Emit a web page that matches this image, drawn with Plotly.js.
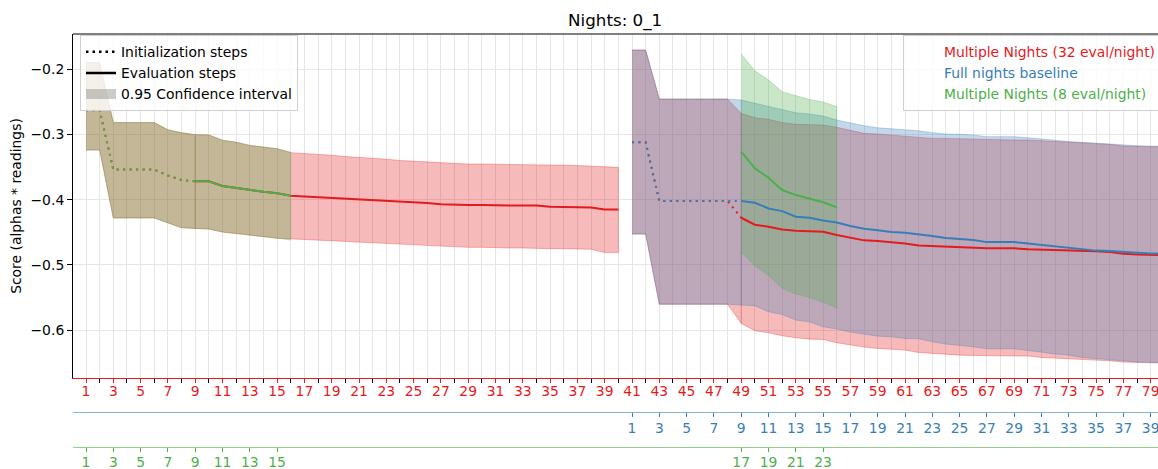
<!DOCTYPE html>
<html><head><meta charset="utf-8">
<script src="https://cdn.plot.ly/plotly-3.0.1.min.js"></script>
<style>html,body{margin:0;padding:0;overflow:hidden;background:#fff}</style>
</head><body>
<div id="chart" style="width:1166px;height:469px"></div>
<script>
// ---------- data ----------
function range(a, b) { const r = []; for (let i = a; i <= b; i++) r.push(i); return r; }

// Night 0 : Multiple Nights (32 eval/night), main steps 1..40
const redSteps0 = range(1, 40);
const redInitEnd0 = 9;
const redMean0 = [-0.263,-0.263,-0.354,-0.354,-0.354,-0.354,-0.363,-0.370,-0.372,-0.372,
  -0.379,-0.382,-0.386,-0.388,-0.390,-0.394,-0.395,-0.396,-0.397,-0.399,
  -0.400,-0.401,-0.402,-0.403,-0.404,-0.405,-0.407,-0.408,-0.408,-0.408,
  -0.409,-0.409,-0.409,-0.409,-0.411,-0.411,-0.411,-0.412,-0.415,-0.415];
const redUpper0 = [-0.19,-0.19,-0.282,-0.282,-0.282,-0.282,-0.293,-0.2975,-0.3005,-0.301,
  -0.309,-0.312,-0.317,-0.3195,-0.322,-0.328,-0.329,-0.331,-0.332,-0.334,
  -0.335,-0.337,-0.338,-0.340,-0.341,-0.342,-0.344,-0.345,-0.3455,-0.3455,
  -0.346,-0.346,-0.3465,-0.3465,-0.347,-0.347,-0.348,-0.349,-0.3505,-0.3505];
const redLower0 = [-0.324,-0.324,-0.428,-0.428,-0.428,-0.428,-0.435,-0.443,-0.444,-0.445,
  -0.4496,-0.452,-0.454,-0.4566,-0.459,-0.461,-0.462,-0.463,-0.464,-0.4645,
  -0.465,-0.466,-0.467,-0.468,-0.469,-0.470,-0.472,-0.472,-0.473,-0.473,
  -0.473,-0.474,-0.474,-0.474,-0.475,-0.475,-0.475,-0.476,-0.481,-0.481];

// Night 1 : Multiple Nights (32 eval/night), main steps 41..80
const redSteps1 = range(41, 80);
const redInitEnd1 = 49;
const redMean1 = [-0.312,-0.312,-0.402,-0.402,-0.402,-0.402,-0.402,-0.402,-0.4277,-0.4384,
  -0.4415,-0.4455,-0.4476,-0.4486,-0.4491,-0.4542,-0.4583,-0.4623,-0.4633,-0.465,
  -0.467,-0.470,-0.471,-0.471,-0.473,-0.474,-0.4745,-0.4745,-0.4745,-0.476,
  -0.4765,-0.4772,-0.4772,-0.478,-0.479,-0.480,-0.4828,-0.4838,-0.4845,-0.485];
const redUpper1 = [-0.171,-0.171,-0.246,-0.246,-0.246,-0.246,-0.246,-0.246,-0.2679,-0.2745,
  -0.277,-0.282,-0.2847,-0.2858,-0.2858,-0.2893,-0.2944,-0.2985,-0.2995,-0.301,
  -0.3026,-0.3046,-0.3062,-0.3062,-0.3067,-0.3077,-0.3087,-0.3087,-0.3087,-0.3087,
  -0.3097,-0.3108,-0.3118,-0.3128,-0.3138,-0.3154,-0.318,-0.319,-0.319,-0.319];
const redLower1 = [-0.4527,-0.4527,-0.560,-0.560,-0.560,-0.560,-0.560,-0.560,-0.5895,-0.6007,
  -0.6038,-0.6084,-0.6114,-0.6135,-0.614,-0.6191,-0.622,-0.6257,-0.6278,-0.6293,
  -0.6303,-0.6339,-0.6354,-0.6364,-0.638,-0.6385,-0.6395,-0.6395,-0.6395,-0.6395,
  -0.6416,-0.6431,-0.6436,-0.6447,-0.6456,-0.6467,-0.6487,-0.6497,-0.6497,-0.650];

// Full nights baseline : own steps 1..40 (start at main step 41)
const blueOffset = 40;
const blueSteps = range(1, 40);
const blueInitEnd = 9;
const blueMean = [-0.312,-0.312,-0.402,-0.402,-0.402,-0.402,-0.402,-0.402,-0.402,-0.4047,
  -0.4134,-0.4175,-0.426,-0.4277,-0.432,-0.435,-0.4404,-0.4445,-0.447,-0.4496,
  -0.4506,-0.4527,-0.4557,-0.4588,-0.4603,-0.4619,-0.465,-0.465,-0.465,-0.467,
  -0.469,-0.472,-0.473,-0.476,-0.478,-0.4785,-0.4802,-0.4813,-0.4823,-0.4823];
const blueUpper = [-0.171,-0.171,-0.246,-0.246,-0.246,-0.246,-0.246,-0.246,-0.2475,-0.2526,
  -0.2567,-0.2618,-0.267,-0.269,-0.272,-0.278,-0.283,-0.2868,-0.290,-0.2914,
  -0.2924,-0.2945,-0.2975,-0.2995,-0.300,-0.301,-0.3036,-0.3036,-0.3036,-0.3052,
  -0.3072,-0.3097,-0.311,-0.3123,-0.3138,-0.3154,-0.3164,-0.3174,-0.318,-0.318];
const blueLower = [-0.4527,-0.4527,-0.560,-0.560,-0.560,-0.560,-0.560,-0.560,-0.5614,-0.5624,
  -0.5716,-0.5757,-0.5844,-0.587,-0.5946,-0.598,-0.6027,-0.606,-0.6089,-0.610,
  -0.6125,-0.613,-0.6176,-0.6211,-0.623,-0.6252,-0.6283,-0.6283,-0.6283,-0.6303,
  -0.6334,-0.6364,-0.638,-0.6416,-0.6436,-0.6447,-0.6467,-0.6487,-0.649,-0.6495];

// Multiple Nights (8 eval/night) : night 0 steps 1..16, night 1 steps 17..24
const greenSteps0 = range(1, 16);
const greenOffset0 = 0;
const greenInitEnd0 = 9;
const greenMean0 = [-0.263,-0.263,-0.354,-0.354,-0.354,-0.354,-0.363,-0.370,-0.372,-0.372,
  -0.379,-0.382,-0.386,-0.388,-0.390,-0.394];
const greenUpper0 = [-0.19,-0.19,-0.282,-0.282,-0.282,-0.282,-0.293,-0.2975,-0.3005,-0.301,
  -0.309,-0.312,-0.317,-0.3195,-0.322,-0.3276];
const greenLower0 = [-0.324,-0.324,-0.428,-0.428,-0.428,-0.428,-0.435,-0.443,-0.444,-0.445,
  -0.4496,-0.452,-0.454,-0.4566,-0.459,-0.4619];
const greenSteps1 = range(17, 24);
const greenOffset1 = 32;
const greenMean1 = [-0.3266,-0.352,-0.3664,-0.3853,-0.393,-0.398,-0.404,-0.4118];
const greenUpper1 = [-0.177,-0.2026,-0.2168,-0.2347,-0.2408,-0.2465,-0.2505,-0.2577];
const greenLower1 = [-0.4805,-0.501,-0.516,-0.5355,-0.5445,-0.5497,-0.557,-0.5658];

// tick labels
const yTicks = [-0.6, -0.5, -0.4, -0.3, -0.2];
const blueTickLabels = [1,3,5,7,9,11,13,15,17,19,21,23,25,27,29,31,33,35,37,39];
const greenTickLabels = [1,3,5,7,9,11,13,15,17,19,21,23];

const seriesNames = ['Multiple Nights (32 eval/night)', 'Full nights baseline', 'Multiple Nights (8 eval/night)'];
const styleNames = ['Initialization steps', 'Evaluation steps', '0.95 Confidence interval'];

// ---------- styling ----------
const C = {red: '#e41a1c', blue: '#377eb8', green: '#4daf4a'};
const F = {red: 'rgba(228,26,28,0.3)', blue: 'rgba(55,126,184,0.3)', green: 'rgba(77,175,74,0.3)'};
const FONT = 'DejaVu Sans, Verdana, sans-serif';
const XR = [0.048, 80.12];

function split(xs, m, u, l, initEnd) {
  const ini = {x: [], m: [], u: [], l: []}, ev = {x: [], m: [], u: [], l: []};
  xs.forEach((x, i) => {
    if (initEnd !== null && x <= initEnd) { ini.x.push(x); ini.m.push(m[i]); ini.u.push(u[i]); ini.l.push(l[i]); }
    if (initEnd === null || x >= initEnd) { ev.x.push(x); ev.m.push(m[i]); ev.u.push(u[i]); ev.l.push(l[i]); }
  });
  return [ini, ev];
}
function band(s, col) {
  return {x: s.x.concat(s.x.slice().reverse()), y: s.u.concat(s.l.slice().reverse()),
    mode: 'lines', fill: 'toself', fillcolor: F[col], line: {color: F[col], width: 1},
    showlegend: false, hoverinfo: 'skip'};
}
function line(s, col, dash) {
  return {x: s.x, y: s.m, mode: 'lines', line: {color: C[col], width: 2, dash: dash},
    showlegend: false, hoverinfo: 'skip'};
}

const groups = [
  {col: 'red', parts: split(redSteps0, redMean0, redUpper0, redLower0, redInitEnd0)},
  {col: 'red', parts: split(redSteps1, redMean1, redUpper1, redLower1, redInitEnd1)},
  {col: 'blue', parts: split(blueSteps.map(s => s + blueOffset), blueMean, blueUpper, blueLower, blueInitEnd + blueOffset)},
  {col: 'green', parts: split(greenSteps0.map(s => s + greenOffset0), greenMean0, greenUpper0, greenLower0, greenInitEnd0 + greenOffset0)},
  {col: 'green', parts: split(greenSteps1.map(s => s + greenOffset1), greenMean1, greenUpper1, greenLower1, null)}
];

const traces = [];
// dummy traces so the extra step axes are drawn
traces.push({x: [null], y: [null], xaxis: 'x2', yaxis: 'y', showlegend: false, hoverinfo: 'skip', mode: 'lines'});
traces.push({x: [null], y: [null], xaxis: 'x3', yaxis: 'y', showlegend: false, hoverinfo: 'skip', mode: 'lines'});
groups.forEach(g => g.parts.forEach(p => { if (p.x.length) traces.push(band(p, g.col)); }));
groups.forEach(g => {
  if (g.parts[0].x.length) traces.push(line(g.parts[0], g.col, '2px,4.5px'));
  if (g.parts[1].x.length) traces.push(line(g.parts[1], g.col, 'solid'));
});

// legend entries
traces.push({x: [null], y: [null], mode: 'lines', line: {color: 'black', width: 2.5, dash: '2.5px,4px'}, name: styleNames[0], legend: 'legend', hoverinfo: 'skip'});
traces.push({x: [null], y: [null], mode: 'lines', line: {color: 'black', width: 2.5}, name: styleNames[1], legend: 'legend', hoverinfo: 'skip'});
traces.push({x: [null], y: [null], mode: 'lines', line: {width: 10, color: 'rgba(128,128,128,0.4)'}, name: styleNames[2], legend: 'legend', hoverinfo: 'skip'});
['red', 'blue', 'green'].forEach((c, i) => {
  traces.push({x: [null], y: [null], mode: 'lines', line: {color: 'rgba(0,0,0,0)', width: 0},
    name: '<span style="color:' + C[c] + '">' + seriesNames[i] + '</span>', legend: 'legend2', hoverinfo: 'skip'});
});

const tickFont = (c) => ({family: FONT, size: 13.9, color: c});
const layout = {
  width: 1166, height: 469,
  margin: {l: 73, r: 0, t: 34, b: 0},
  paper_bgcolor: '#fff', plot_bgcolor: '#fff',
  font: {family: FONT, size: 13.9, color: '#000'},
  hovermode: false,
  title: {text: 'Nights: 0_1', font: {family: FONT, size: 16.7, color: '#000'},
    xref: 'paper', x: 0.496, xanchor: 'center', yref: 'container', y: 0.957, yanchor: 'middle'},
  xaxis: {range: XR, domain: [0, 1], anchor: 'y', tickmode: 'linear', tick0: 1, dtick: 2,
    ticks: 'outside', ticklen: 4, tickwidth: 1, tickcolor: C.red, tickfont: tickFont(C.red), ticklabelstandoff: -4,
    showline: true, linecolor: C.red, linewidth: 1, showgrid: true, gridcolor: '#e6e6e6', gridwidth: 1,
    zeroline: false, fixedrange: true,
    minor: {dtick: 1, tick0: 1, ticks: 'outside', ticklen: 4, tickcolor: '#000', tickwidth: 1, showgrid: true, gridcolor: '#e6e6e6', gridwidth: 1}},
  xaxis2: {range: XR, overlaying: 'x', anchor: 'free', position: 0.131, side: 'bottom',
    tickmode: 'array', tickvals: blueTickLabels.map(s => s + blueOffset), ticktext: blueTickLabels.map(String),
    ticks: 'outside', ticklen: 4, tickcolor: C.blue, tickfont: tickFont(C.blue), ticklabelstandoff: -1,
    showline: true, linecolor: 'rgba(55,126,184,0.6)', linewidth: 1.3, showgrid: false, zeroline: false},
  xaxis3: {range: XR, overlaying: 'x', anchor: 'free', position: 0.0506, side: 'bottom',
    tickmode: 'array', tickvals: greenTickLabels.map(s => s + (s > 16 ? greenOffset1 : greenOffset0)), ticktext: greenTickLabels.map(String),
    ticks: 'outside', ticklen: 4, tickcolor: C.green, tickfont: tickFont(C.green), ticklabelstandoff: -2,
    showline: true, linecolor: 'rgba(77,175,74,0.6)', linewidth: 1.3, showgrid: false, zeroline: false},
  yaxis: {range: [-0.673, -0.1464], domain: [0.2092, 1], anchor: 'x',
    tickmode: 'array', tickvals: yTicks, tickformat: '.1f',
    ticks: 'outside', ticklen: 5, tickcolor: '#000', tickfont: tickFont('#000'),
    showline: true, linecolor: '#000', linewidth: 1, mirror: true,
    showgrid: true, gridcolor: '#e6e6e6', zeroline: false,
    title: {text: 'Score (alphas * readings)', font: {family: FONT, size: 13.9, color: '#000'}, standoff: 5}},
  shapes: [{type: 'line', xref: 'paper', yref: 'paper', x0: 0, x1: 1, y0: 1, y1: 1, line: {color: '#000', width: 1}}],
  legend: {x: 0.0064, xanchor: 'left', y: 0.997, yanchor: 'top', bgcolor: 'rgba(255,255,255,0.8)',
    bordercolor: '#d0d0d0', borderwidth: 1, font: {family: FONT, size: 13.9, color: '#000'}, tracegroupgap: 0},
  legend2: {x: 0.9963, xanchor: 'right', y: 0.997, yanchor: 'top', bgcolor: 'rgba(255,255,255,0.8)',
    bordercolor: '#d0d0d0', borderwidth: 1, font: {family: FONT, size: 13.9, color: '#000'}, tracegroupgap: 0}
};

Plotly.newPlot('chart', traces, layout, {displayModeBar: false, staticPlot: true});
</script>
</body></html>
